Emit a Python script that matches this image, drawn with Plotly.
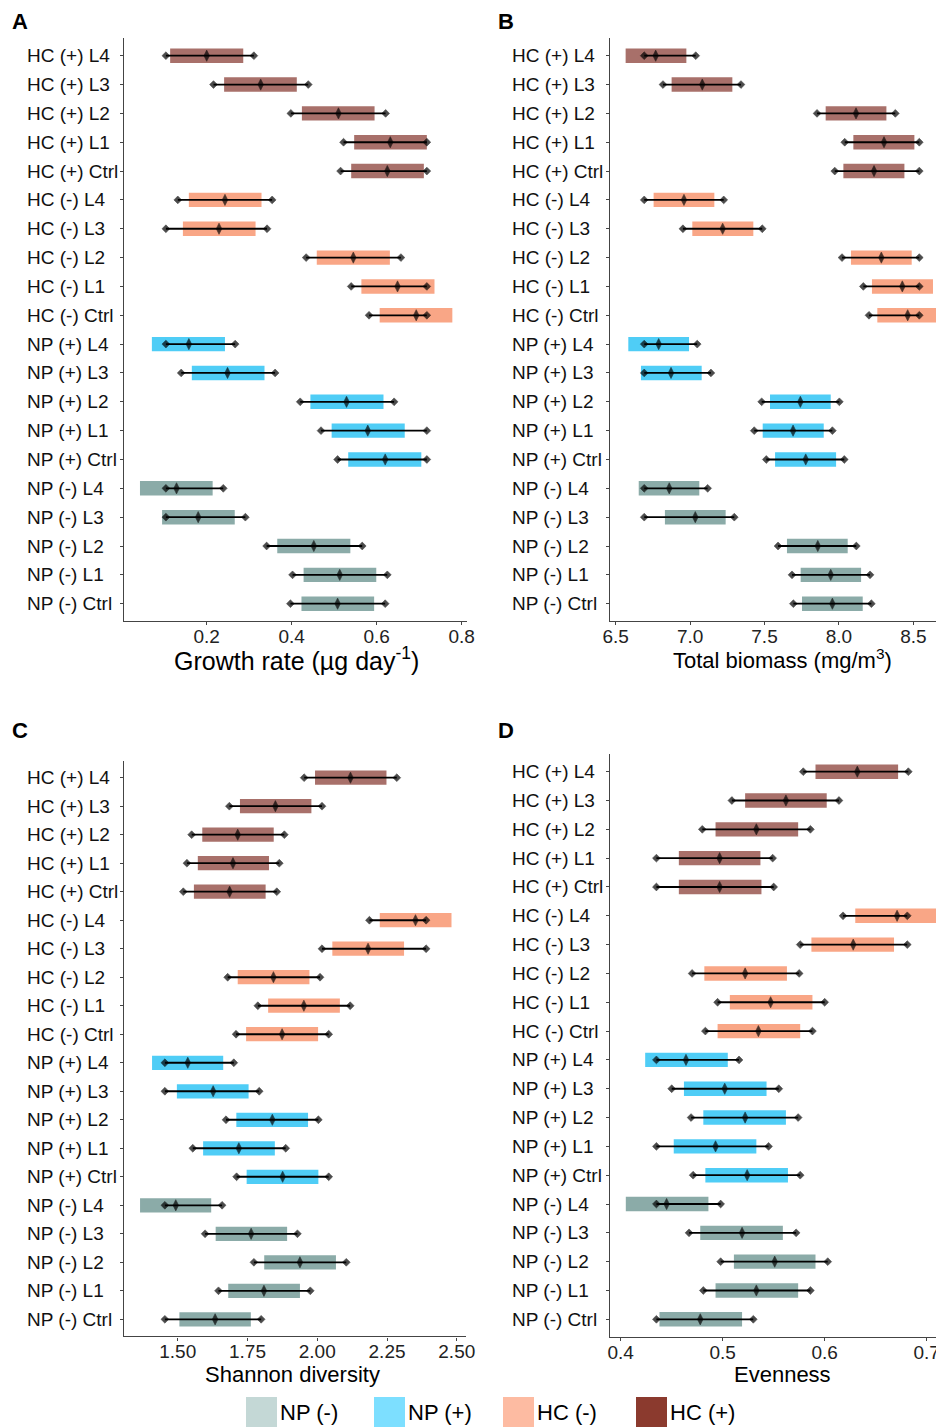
import plotly.graph_objects as go

OFF = 8  # default page margin of the html body
W, H = 944 - OFF, 1427 - OFF
FONT = "Liberation Sans, Arial, sans-serif"

categories = ["HC (+) L4", "HC (+) L3", "HC (+) L2", "HC (+) L1", "HC (+) Ctrl",
              "HC (-) L4", "HC (-) L3", "HC (-) L2", "HC (-) L1", "HC (-) Ctrl",
              "NP (+) L4", "NP (+) L3", "NP (+) L2", "NP (+) L1", "NP (+) Ctrl",
              "NP (-) L4", "NP (-) L3", "NP (-) L2", "NP (-) L1", "NP (-) Ctrl"]
groups = ["NP (-)", "NP (+)", "HC (-)", "HC (+)"]
bar_colors = {"NP (-)": "#8BABA8", "NP (+)": "#4FCDF6", "HC (-)": "#F9A686", "HC (+)": "#A8706A"}
legend_colors = {"NP (-)": "#C4D8D6", "NP (+)": "#7DDFFF", "HC (-)": "#FDBBA2", "HC (+)": "#8B3A2E"}

# Panel A: Growth rate
A_bar_lo = [0.114, 0.241, 0.424, 0.547, 0.540, 0.158, 0.144, 0.459, 0.564, 0.607, 0.071, 0.165, 0.444, 0.494, 0.533, 0.043, 0.095, 0.366, 0.428, 0.423]
A_bar_hi = [0.286, 0.412, 0.595, 0.718, 0.711, 0.329, 0.315, 0.631, 0.736, 0.778, 0.243, 0.336, 0.616, 0.666, 0.705, 0.214, 0.266, 0.538, 0.599, 0.594]
A_err_lo = [0.104, 0.216, 0.398, 0.522, 0.515, 0.132, 0.104, 0.434, 0.540, 0.582, 0.104, 0.140, 0.420, 0.469, 0.508, 0.104, 0.104, 0.341, 0.402, 0.397]
A_mean = [0.200, 0.327, 0.510, 0.632, 0.625, 0.243, 0.229, 0.545, 0.649, 0.693, 0.158, 0.249, 0.529, 0.579, 0.620, 0.129, 0.180, 0.452, 0.513, 0.508]
A_err_hi = [0.311, 0.439, 0.621, 0.718, 0.718, 0.354, 0.342, 0.657, 0.718, 0.718, 0.267, 0.361, 0.641, 0.718, 0.718, 0.239, 0.291, 0.566, 0.625, 0.620]

# Panel B: Total biomass
B_bar_lo = [6.567, 6.876, 7.911, 8.097, 8.030, 6.755, 7.015, 8.081, 8.222, 8.258, 6.585, 6.670, 7.537, 7.488, 7.571, 6.655, 6.831, 7.651, 7.743, 7.752]
B_bar_hi = [6.975, 7.284, 8.319, 8.507, 8.440, 7.163, 7.425, 8.489, 8.632, 8.664, 6.993, 7.078, 7.945, 7.898, 7.981, 7.062, 7.239, 8.059, 8.149, 8.160]
B_err_lo = [6.692, 6.818, 7.853, 8.039, 7.972, 6.692, 6.952, 8.021, 8.164, 8.202, 6.692, 6.692, 7.481, 7.431, 7.512, 6.692, 6.692, 7.591, 7.685, 7.694]
B_mean = [6.769, 7.082, 8.115, 8.303, 8.236, 6.959, 7.219, 8.285, 8.426, 8.462, 6.789, 6.872, 7.741, 7.692, 7.777, 6.860, 7.035, 7.858, 7.945, 7.956]
B_err_hi = [7.038, 7.342, 8.379, 8.540, 8.540, 7.226, 7.485, 8.540, 8.540, 8.540, 7.048, 7.140, 8.003, 7.956, 8.036, 7.118, 7.297, 8.117, 8.209, 8.218]

# Panel C: Shannon diversity
C_bar_lo = [1.992, 1.723, 1.588, 1.572, 1.558, 2.224, 2.054, 1.715, 1.824, 1.745, 1.408, 1.497, 1.710, 1.591, 1.747, 1.365, 1.636, 1.810, 1.681, 1.506]
C_bar_hi = [2.248, 1.979, 1.844, 1.827, 1.815, 2.481, 2.311, 1.972, 2.081, 2.003, 1.663, 1.754, 1.967, 1.848, 2.004, 1.620, 1.892, 2.067, 1.938, 1.762]
C_err_lo = [1.953, 1.685, 1.550, 1.533, 1.520, 2.187, 2.017, 1.679, 1.787, 1.709, 1.454, 1.454, 1.673, 1.554, 1.711, 1.454, 1.598, 1.773, 1.646, 1.454]
C_mean = [2.119, 1.850, 1.715, 1.698, 1.686, 2.352, 2.182, 1.843, 1.952, 1.874, 1.536, 1.627, 1.839, 1.719, 1.876, 1.493, 1.763, 1.938, 1.809, 1.634]
C_err_hi = [2.285, 2.017, 1.882, 1.864, 1.855, 2.390, 2.390, 2.010, 2.118, 2.041, 1.701, 1.792, 2.004, 1.887, 2.041, 1.659, 1.929, 2.104, 1.975, 1.799]

# Panel D: Evenness
D_bar_lo = [0.591, 0.522, 0.493, 0.457, 0.457, 0.630, 0.587, 0.482, 0.507, 0.495, 0.424, 0.462, 0.481, 0.452, 0.483, 0.405, 0.478, 0.511, 0.493, 0.438]
D_bar_hi = [0.672, 0.602, 0.574, 0.537, 0.538, 0.711, 0.668, 0.563, 0.588, 0.576, 0.505, 0.543, 0.562, 0.533, 0.564, 0.486, 0.559, 0.591, 0.574, 0.519]
D_err_lo = [0.579, 0.509, 0.480, 0.435, 0.435, 0.618, 0.576, 0.470, 0.495, 0.483, 0.435, 0.450, 0.469, 0.435, 0.471, 0.435, 0.467, 0.498, 0.481, 0.435]
D_mean = [0.632, 0.562, 0.533, 0.497, 0.497, 0.671, 0.628, 0.522, 0.547, 0.535, 0.464, 0.502, 0.522, 0.493, 0.524, 0.445, 0.519, 0.551, 0.533, 0.478]
D_err_hi = [0.682, 0.614, 0.586, 0.549, 0.550, 0.681, 0.681, 0.575, 0.600, 0.588, 0.516, 0.555, 0.574, 0.545, 0.576, 0.498, 0.572, 0.603, 0.586, 0.530]

x_titles = ["Growth rate (µg day<sup>-1</sup>)", "Total biomass (mg/m<sup>3</sup>)",
            "Shannon diversity", "Evenness"]
x_title_sizes = [25, 22, 22, 22]
x_ticks = [[0.2, 0.4, 0.6, 0.8], [6.5, 7.0, 7.5, 8.0, 8.5],
           [1.5, 1.75, 2.0, 2.25, 2.5], [0.4, 0.5, 0.6, 0.7]]
x_ticktext = [["0.2", "0.4", "0.6", "0.8"], ["6.5", "7.0", "7.5", "8.0", "8.5"],
              ["1.50", "1.75", "2.00", "2.25", "2.50"], ["0.4", "0.5", "0.6", "0.7"]]
x_ranges = [[0.0054, 0.8125], [6.462, 8.706], [1.3075, 2.533], [0.3895, 0.717]]
panel_letters = ["A", "B", "C", "D"]

panels = [
    (A_bar_lo, A_bar_hi, A_err_lo, A_mean, A_err_hi),
    (B_bar_lo, B_bar_hi, B_err_lo, B_mean, B_err_hi),
    (C_bar_lo, C_bar_hi, C_err_lo, C_mean, C_err_hi),
    (D_bar_lo, D_bar_hi, D_err_lo, D_mean, D_err_hi),
]

# pixel layout in page coordinates (left, right, top, bottom) of each plotting area
boxes = [(124, 467, 38.4, 621), (610, 944, 38.4, 621),
         (124, 466, 760.6, 1336.4), (610, 944, 754.4, 1336.6)]
label_x = [24.5, 510, 24.5, 510]
letter_pos = [(20, 21.5), (506, 21.5), (20, 730), (506, 730)]
title_pos = [(296, 659), (782, 659), (292, 1374), (782, 1374)]


def px(x):
    return (x - OFF) / W


def py(y):
    return 1 - (y - OFF) / H


def gname(c):
    return c.rsplit(" ", 1)[0]


fig = go.Figure()
annotations = []
shapes = []

for i, (blo, bhi, elo, mn, ehi) in enumerate(panels):
    xa = "x" if i == 0 else f"x{i+1}"
    ya = "y" if i == 0 else f"y{i+1}"
    fig.add_trace(go.Bar(
        y=categories, base=blo, x=[h - l for l, h in zip(blo, bhi)],
        orientation="h", width=0.5,
        marker=dict(color=[bar_colors[gname(c)] for c in categories], line=dict(width=0)),
        xaxis=xa, yaxis=ya, showlegend=False, hoverinfo="skip"))
    xs, ys, syms, sizes = [], [], [], []
    for c, a, m, b in zip(categories, elo, mn, ehi):
        xs += [a, m, b, None]
        ys += [c, c, c, None]
        syms += ["diamond", "diamond-tall", "diamond", "circle"]
        sizes += [6, 8, 6, 0]
    fig.add_trace(go.Scatter(
        x=xs, y=ys, mode="lines+markers",
        line=dict(color="black", width=1.8),
        marker=dict(color="black", size=sizes, symbol=syms,
                    line=dict(color="black", width=0.6)),
        xaxis=xa, yaxis=ya, showlegend=False, hoverinfo="skip"))

    l, r, t, b = boxes[i]
    xdom = [px(l), min(px(r), 1.0)]
    ydom = [py(b), py(t)]
    fig.layout[("xaxis" if i == 0 else f"xaxis{i+1}")] = dict(
        domain=xdom, anchor=ya, range=x_ranges[i], showgrid=False, zeroline=False,
        showline=True, linecolor="#444", linewidth=1.2, automargin=False,
        ticks="outside", ticklen=3, tickcolor="#444", ticklabelstandoff=-5,
        tickvals=x_ticks[i], ticktext=x_ticktext[i],
        tickfont=dict(family=FONT, size=19, color="#222"),
    )
    fig.layout[("yaxis" if i == 0 else f"yaxis{i+1}")] = dict(
        domain=ydom, anchor=xa, type="category", automargin=False,
        categoryorder="array", categoryarray=list(reversed(categories)),
        range=[-0.6, len(categories) - 0.4],
        showgrid=False, zeroline=False, showline=True, linecolor="#444", linewidth=1.2,
        ticks="outside", ticklen=3, tickcolor="#444", showticklabels=False,
    )
    for c in categories:
        annotations.append(dict(
            text=c, xref="paper", x=px(label_x[i]), xanchor="left",
            yref=ya, y=c, yanchor="middle", showarrow=False,
            font=dict(family=FONT, size=19, color="#111")))
    lx, ly = letter_pos[i]
    annotations.append(dict(
        text=f"<b>{panel_letters[i]}</b>", xref="paper", yref="paper",
        x=px(lx), y=py(ly), xanchor="center", yanchor="middle", showarrow=False,
        font=dict(family=FONT, size=22, color="black")))
    tx, ty = title_pos[i]
    annotations.append(dict(
        text=x_titles[i], xref="paper", yref="paper",
        x=px(tx), y=py(ty), xanchor="center", yanchor="middle", showarrow=False,
        font=dict(family=FONT, size=x_title_sizes[i], color="black")))

# legend (drawn manually to match large square keys)
legend_x = [246, 374, 503, 636]
for gx, g in zip(legend_x, groups):
    shapes.append(dict(type="rect", xref="paper", yref="paper",
                       x0=px(gx), x1=px(gx + 31), y0=max(py(1428), 0), y1=py(1397),
                       fillcolor=legend_colors[g], line=dict(width=0)))
    annotations.append(dict(text=g, xref="paper", yref="paper",
                            x=px(gx + 32), y=py(1412), xanchor="left", yanchor="middle",
                            showarrow=False, font=dict(family=FONT, size=22, color="black")))

fig.update_layout(
    width=W, height=H, margin=dict(l=0, r=0, t=0, b=0, pad=0), autosize=False,
    paper_bgcolor="white", plot_bgcolor="white",
    barmode="overlay", annotations=annotations, shapes=shapes,
    font=dict(family=FONT),
)

fig.write_html("out.html")
